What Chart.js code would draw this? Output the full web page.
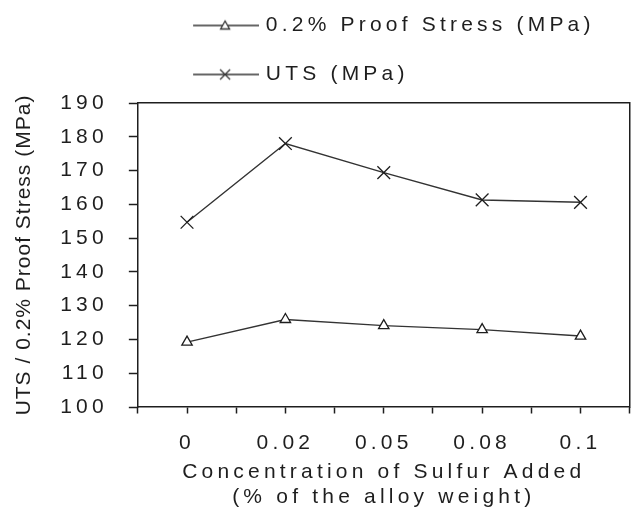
<!DOCTYPE html>
<html>
<head>
<meta charset="utf-8">
<title>UTS and proof stress vs sulfur added</title>
<script src="https://cdn.jsdelivr.net/npm/chart.js@4.4.1/dist/chart.umd.min.js"></script>
<style>
  html, body { margin: 0; padding: 0; background: #fff; }
  #box { width: 640px; height: 508px; }
</style>
</head>
<body>
<div id="box"><canvas id="chart"></canvas></div>
<script>
const concentrations = ['0', '0.02', '0.05', '0.08', '0.1'];
const proofStress = [119.2, 125.9, 124.1, 122.9, 121.0];
const uts = [154.7, 178.0, 169.4, 161.3, 160.6];
const yMin = 100;
const yMax = 190;
const yStep = 10;
const seriesNames = ['0.2% Proof Stress (MPa)', 'UTS (MPa)'];
const xTitle = ['Concentration of Sulfur Added', '(% of the alloy weight)'];
const yTitle = 'UTS / 0.2% Proof Stress (MPa)';

const ink = '#1e1e1e';
const lineInk = '#333';
const noInk = 'rgba(0,0,0,0)';

Chart.defaults.color = ink;
Chart.defaults.font = { family: '"Liberation Sans", Arial, sans-serif', size: 21 };

// legend key: a short line with the marker in the middle
// (left part of the image is left empty to push the key to the right)
function legendKey(style) {
  const c = document.createElement('canvas');
  c.width = 97;
  c.height = 16;
  const g = c.getContext('2d');
  g.strokeStyle = lineInk;
  g.lineWidth = 1.3;
  g.beginPath();
  g.moveTo(31, 8);
  g.lineTo(97, 8);
  g.stroke();
  g.beginPath();
  if (style === 'triangle') {
    g.moveTo(63, 3.5);
    g.lineTo(67.5, 11.5);
    g.lineTo(58.5, 11.5);
    g.closePath();
    g.fillStyle = '#fff';
    g.fill();
    g.stroke();
  } else {
    g.moveTo(58, 3);
    g.lineTo(68, 13);
    g.moveTo(68, 3);
    g.lineTo(58, 13);
    g.stroke();
  }
  return c;
}

const legendKeys = [legendKey('triangle'), legendKey('cross')];

// the original text is drawn wide, so space the letters out
// (the rotated y title is only slightly spaced)
const letterSpacing = {
  id: 'letterSpacing',
  beforeLayout(chart) {
    chart.ctx.letterSpacing = '4.2px';
  },
  afterLayout(chart) {
    const yScale = chart.scales.y;
    if (yScale && !yScale._spacingPatched) {
      const drawTitle = yScale.drawTitle;
      yScale.drawTitle = function () {
        this.ctx.letterSpacing = '1px';
        drawTitle.call(this);
        this.ctx.letterSpacing = '4.2px';
      };
      yScale._spacingPatched = true;
    }
  },
  beforeDraw(chart) {
    chart.ctx.letterSpacing = '4.2px';
  },
};

new Chart(document.getElementById('chart'), {
  type: 'line',
  data: {
    datasets: [
      {
        label: seriesNames[0],
        data: proofStress.map((v, i) => ({ x: i, y: v })),
        borderColor: lineInk,
        borderWidth: 1.4,
        pointStyle: 'triangle',
        pointRadius: 6,
        pointBackgroundColor: '#fff',
        pointBorderColor: ink,
        pointBorderWidth: 1.3,
      },
      {
        label: seriesNames[1],
        data: uts.map((v, i) => ({ x: i, y: v })),
        borderColor: lineInk,
        borderWidth: 1.4,
        pointStyle: 'crossRot',
        pointRadius: 9,
        pointBorderColor: ink,
        pointBorderWidth: 1.3,
      },
    ],
  },
  options: {
    responsive: true,
    maintainAspectRatio: false,
    animation: false,
    tension: 0,
    layout: {
      padding: { top: -13, right: -3, bottom: -2, left: 0 },
    },
    scales: {
      x: {
        type: 'linear',
        min: -0.5,
        max: concentrations.length - 0.5,
        border: { color: ink, width: 1.5 },
        grid: {
          drawOnChartArea: false,
          // long tick slot for the label gap, only the first 6px are inked
          tickLength: 24,
          tickBorderDash: [6, 60],
          tickWidth: 1.5,
          tickColor: ink,
        },
        ticks: {
          stepSize: 0.5,
          autoSkip: false,
          maxRotation: 0,
          minRotation: 0,
          padding: 0,
          color: ink,
          callback: (v) => (Number.isInteger(v) ? concentrations[v] : ''),
        },
        title: {
          display: true,
          text: xTitle,
          color: ink,
          padding: { top: 3.4, bottom: 0 },
        },
      },
      // top and right axes only close the plot box
      xTop: {
        type: 'linear',
        position: 'top',
        min: -0.5,
        max: concentrations.length - 0.5,
        border: { color: ink, width: 1.5 },
        grid: { drawOnChartArea: false, tickLength: 8, tickColor: noInk },
        ticks: { display: false },
      },
      y: {
        min: yMin,
        max: yMax,
        border: { color: ink, width: 1.5 },
        grid: {
          drawOnChartArea: false,
          tickLength: 9,
          tickWidth: 1.5,
          tickColor: ink,
        },
        ticks: {
          stepSize: yStep,
          padding: 21,
          color: ink,
        },
        title: {
          display: true,
          text: yTitle,
          color: ink,
          padding: { top: 12, bottom: 2 },
        },
      },
      yRight: {
        position: 'right',
        min: yMin,
        max: yMax,
        border: { color: ink, width: 1.5 },
        grid: { drawOnChartArea: false, drawTicks: false },
        ticks: { display: false },
      },
    },
    plugins: {
      tooltip: { enabled: false },
      legend: {
        position: 'top',
        align: 'start',
        fullSize: false,
        labels: {
          usePointStyle: true,
          pointStyleWidth: 89.5,
          padding: 28,
          color: ink,
          generateLabels: (chart) => {
            const items = Chart.defaults.plugins.legend.labels.generateLabels(chart);
            items.forEach((item, i) => {
              item.pointStyle = legendKeys[i];
            });
            return items;
          },
        },
      },
    },
  },
  plugins: [letterSpacing],
});
</script>
</body>
</html>
